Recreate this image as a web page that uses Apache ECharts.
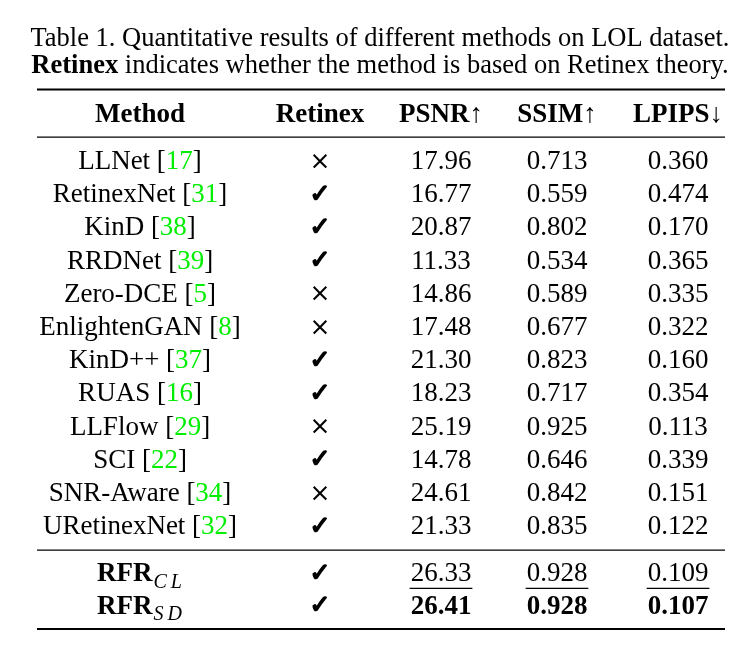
<!DOCTYPE html>
<html><head><meta charset="utf-8">
<script src="https://cdn.jsdelivr.net/npm/echarts@6/dist/echarts.min.js"></script>
<style>html,body{margin:0;padding:0;background:#fff}#c{width:748px;height:649px}</style>
</head><body><div id="c"></div>
<script>
// ---- data ----
const headers = ['Method', 'Retinex', 'PSNR\u2191', 'SSIM\u2191', 'LPIPS\u2193'];
const methods = ['LLNet', 'RetinexNet', 'KinD', 'RRDNet', 'Zero-DCE', 'EnlightenGAN', 'KinD++', 'RUAS', 'LLFlow', 'SCI', 'SNR-Aware', 'URetinexNet'];
const refs = [17, 31, 38, 39, 5, 8, 37, 16, 29, 22, 34, 32];
const retinex = [0, 1, 1, 1, 0, 0, 1, 1, 0, 1, 0, 1];
const psnr = [17.96, 16.77, 20.87, 11.33, 14.86, 17.48, 21.30, 18.23, 25.19, 14.78, 24.61, 21.33];
const ssim = [0.713, 0.559, 0.802, 0.534, 0.589, 0.677, 0.823, 0.717, 0.925, 0.646, 0.842, 0.835];
const lpips = [0.360, 0.474, 0.170, 0.365, 0.335, 0.322, 0.160, 0.354, 0.113, 0.339, 0.151, 0.122];
const oursSub = ['C\u2009L', 'S\u2009D'];
const oursRetinex = [1, 1];
const oursPsnr = [26.33, 26.41];
const oursSsim = [0.928, 0.928];
const oursLpips = [0.109, 0.107];
const oursStyle = ['underline', 'bold'];
const caption1 = 'Table 1. Quantitative results of different methods on LOL dataset.';
const caption2a = 'Retinex';
const caption2b = ' indicates whether the method is based on Retinex theory.';

// ---- layout ----
const colCenters = [140, 320, 441, 557, 678];
const tableLeft = 37, tableRight = 725;
const headerRow = -1.42;
const oursRows = [12.42, 13.4];
const rules = [[-2.12, 2], [-0.69, 1.3], [11.75, 1.3], [14.13, 2]];
const FS = 27;
const FF = '"Liberation Serif","Times New Roman",serif';
const GREEN = '#00ee00';
const TY = 2; // text vertical nudge (px)

const mctx = document.createElement('canvas').getContext('2d');
function tw(t, font) { mctx.font = font; return mctx.measureText(t).width; }
const fontN = FS + 'px ' + FF, fontB = 'bold ' + FS + 'px ' + FF;

// build cell items: [x, y, kind, text, extra]
const cells = [];
headers.forEach((h, c) => cells.push([colCenters[c], headerRow, 'head', h]));
methods.forEach((m, i) => {
  cells.push([colCenters[0], i, 'method', m, refs[i]]);
  cells.push([colCenters[1], i, 'mark', retinex[i] ? '\u2713' : '\u00d7']);
  cells.push([colCenters[2], i, 'num', psnr[i].toFixed(2)]);
  cells.push([colCenters[3], i, 'num', ssim[i].toFixed(3)]);
  cells.push([colCenters[4], i, 'num', lpips[i].toFixed(3)]);
});
oursSub.forEach((s, i) => {
  const y = oursRows[i];
  cells.push([colCenters[0], y, 'ours', 'RFR', s]);
  cells.push([colCenters[1], y, 'mark', oursRetinex[i] ? '\u2713' : '\u00d7']);
  cells.push([colCenters[2], y, oursStyle[i], oursPsnr[i].toFixed(2)]);
  cells.push([colCenters[3], y, oursStyle[i], oursSsim[i].toFixed(3)]);
  cells.push([colCenters[4], y, oursStyle[i], oursLpips[i].toFixed(3)]);
});

function renderCell(params, api) {
  const d = cells[params.dataIndex];
  const p = api.coord([d[0], d[1]]);
  const py = p[1] + TY;
  const kind = d[2], text = d[3];
  const base = { x: p[0], y: py, align: 'center', verticalAlign: 'middle', fill: '#000', font: fontN };
  if (kind === 'head') {
    return { type: 'text', style: Object.assign(base, { text: text, font: fontB }) };
  }
  if (kind === 'method') {
    return { type: 'text', style: Object.assign(base, {
      text: text + ' [{g|' + d[4] + '}]',
      rich: { g: { fill: GREEN, font: fontN } }
    }) };
  }
  if (kind === 'mark') {
    const isCheck = text === '\u2713';
    if (isCheck) {
      return { type: 'text', style: Object.assign(base, {
        text: text, font: '25px "DejaVu Sans",sans-serif', stroke: '#000', lineWidth: 1.6
      }) };
    }
    return { type: 'text', style: Object.assign(base, {
      text: text, font: '25px "DejaVu Sans",sans-serif'
    }) };
  }
  if (kind === 'num') {
    return { type: 'text', style: Object.assign(base, { text: text }) };
  }
  if (kind === 'bold') {
    return { type: 'text', style: Object.assign(base, { text: text, font: fontB }) };
  }
  if (kind === 'underline') {
    const w = tw(text, fontN);
    return { type: 'group', children: [
      { type: 'text', style: Object.assign(base, { text: text }) },
      { type: 'line', shape: { x1: p[0] - w / 2 - 1, y1: py + 14, x2: p[0] + w / 2 + 1, y2: py + 14 },
        style: { stroke: '#000', lineWidth: 1.2 } }
    ] };
  }
  if (kind === 'ours') {
    const subFont = 'italic 20px ' + FF;
    const w1 = tw(text, fontB), w2 = tw(d[4], subFont) + 2;
    const x0 = p[0] - (w1 + w2) / 2;
    return { type: 'group', children: [
      { type: 'text', style: { x: x0, y: py, align: 'left', verticalAlign: 'middle', text: text, font: fontB, fill: '#000' } },
      { type: 'text', style: { x: x0 + w1 + 1, y: py + 8, align: 'left', verticalAlign: 'middle', text: d[4], font: subFont, fill: '#000' } }
    ] };
  }
  return null;
}

function renderRule(params, api) {
  const r = rules[params.dataIndex];
  const a = api.coord([tableLeft, r[0]]), b = api.coord([tableRight, r[0]]);
  return { type: 'line', shape: { x1: a[0], y1: a[1], x2: b[0], y2: b[1] }, style: { stroke: '#000', lineWidth: r[1] } };
}

const chart = echarts.init(document.getElementById('c'), null, { renderer: 'canvas' });
chart.setOption({
  animation: false,
  backgroundColor: '#fff',
  title: {
    left: 375, top: 21, textAlign: 'center',
    text: caption1 + '\n{b|' + caption2a + '}' + caption2b,
    textStyle: {
      fontFamily: FF, fontSize: 26.5, fontWeight: 'normal', color: '#000', lineHeight: 27,
      rich: { b: { fontFamily: FF, fontSize: 26.5, fontWeight: 'bold', color: '#000', lineHeight: 27 } }
    }
  },
  grid: { left: 0, right: 0, top: 0, bottom: 0 },
  xAxis: { type: 'value', min: 0, max: 748, show: false },
  yAxis: { type: 'value', inverse: true, min: -160 / 33.2, max: (649 - 160) / 33.2, show: false },
  series: [
    { type: 'custom', renderItem: renderRule, data: rules.map(r => [tableLeft, r[0]]), silent: true, clip: false },
    { type: 'custom', renderItem: renderCell, data: cells.map(c => [c[0], c[1]]), silent: true, clip: false }
  ]
});
</script>
</body></html>
